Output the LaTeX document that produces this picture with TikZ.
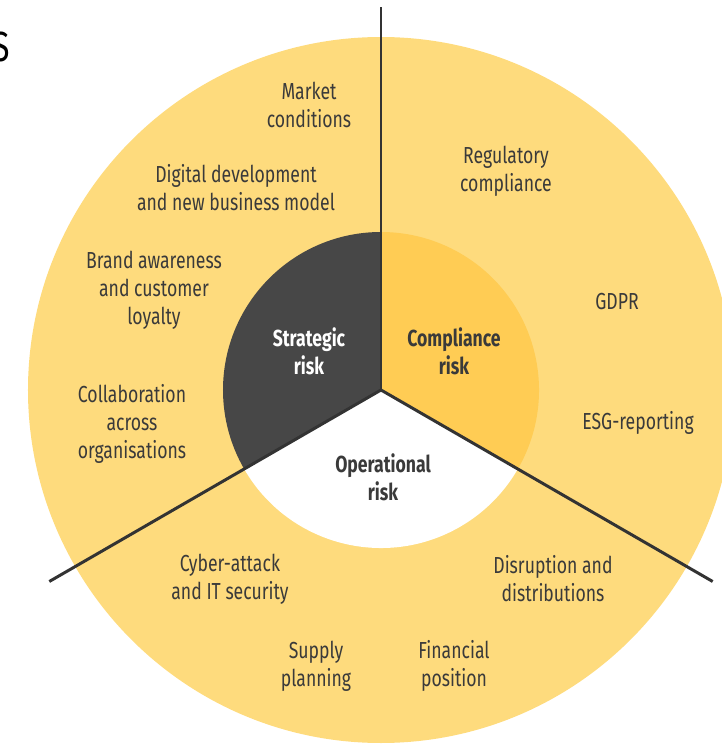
\documentclass[tikz,border=0pt]{standalone}
\usepackage{fontspec}
\setmainfont[FakeStretch=0.76]{Fira Sans}

\definecolor{ringyellow}{RGB}{254,219,125}
\definecolor{coreyellow}{RGB}{255,204,84}
\definecolor{coregray}{RGB}{71,71,71}
\definecolor{spokegray}{RGB}{51,51,51}
\definecolor{textgray}{RGB}{58,58,58}

\begin{document}
\begin{tikzpicture}[x=0.02cm, y=0.02cm,
    item/.style={align=center, text=textgray, font=\fontsize{13.2}{15.9}\selectfont},
    core/.style={item, font=\fontsize{13.2}{15.9}\selectfont\bfseries}]

  % Definitions
  \def\Ro{353}  % Radius of outer ring
  \def\ri{158}  % Radius of core
  \def\ls{383}  % Length of the spokes

  \coordinate (O) at (0,0);
  \useasboundingbox (-381,-354) rectangle (341,390);

  % Draw commands
  \fill [ringyellow] (O) circle [radius=\Ro];
  \fill [coregray] (O) -- (90:\ri) arc [start angle=90, end angle=210, radius=\ri] -- cycle;
  \fill [coreyellow] (O) -- (-30:\ri) arc [start angle=-30, end angle=90, radius=\ri] -- cycle;
  \fill [white] (O) -- (210:\ri) arc [start angle=210, end angle=330, radius=\ri] -- cycle;

  \draw [spokegray, line width=1.7pt] (O) -- (90:\ls);
  \draw [spokegray, line width=1.7pt] (O) -- (210:\ls);
  \draw [spokegray, line width=1.7pt] (O) -- (-30:\ls);

  \node [core, text=white] (strategic) at (-72,39) {Strategic\\risk};
  \node [core] (compliance) at (73,39) {Compliance\\risk};
  \node [core] (operational) at (2,-87) {Operational\\risk};

  \node [item] (market) at (-72,285) {Market\\conditions};
  \node [item] (digital) at (-145,202) {Digital development\\and new business model};
  \node [item] (brand) at (-227,100) {Brand awareness\\and customer\\loyalty};
  \node [item] (collab) at (-249,-34) {Collaboration\\across\\organisations};

  \node [item] (regulatory) at (125,219) {Regulatory\\compliance};
  \node [item] (gdpr) at (236,88) {GDPR};
  \node [item] (esg) at (257,-33) {ESG-reporting};

  \node [item] (disruption) at (172,-189) {Disruption and\\distributions};
  \node [item] (financial) at (73,-276) {Financial\\position};
  \node [item] (supply) at (-65,-276) {Supply\\planning};
  \node [item] (cyber) at (-151,-189) {Cyber-attack\\and IT security};

  \node [anchor=base east, inner sep=0, font=\fontsize{24}{24}\selectfont] (title) at (-371,328) {S};

\end{tikzpicture}
\end{document}
